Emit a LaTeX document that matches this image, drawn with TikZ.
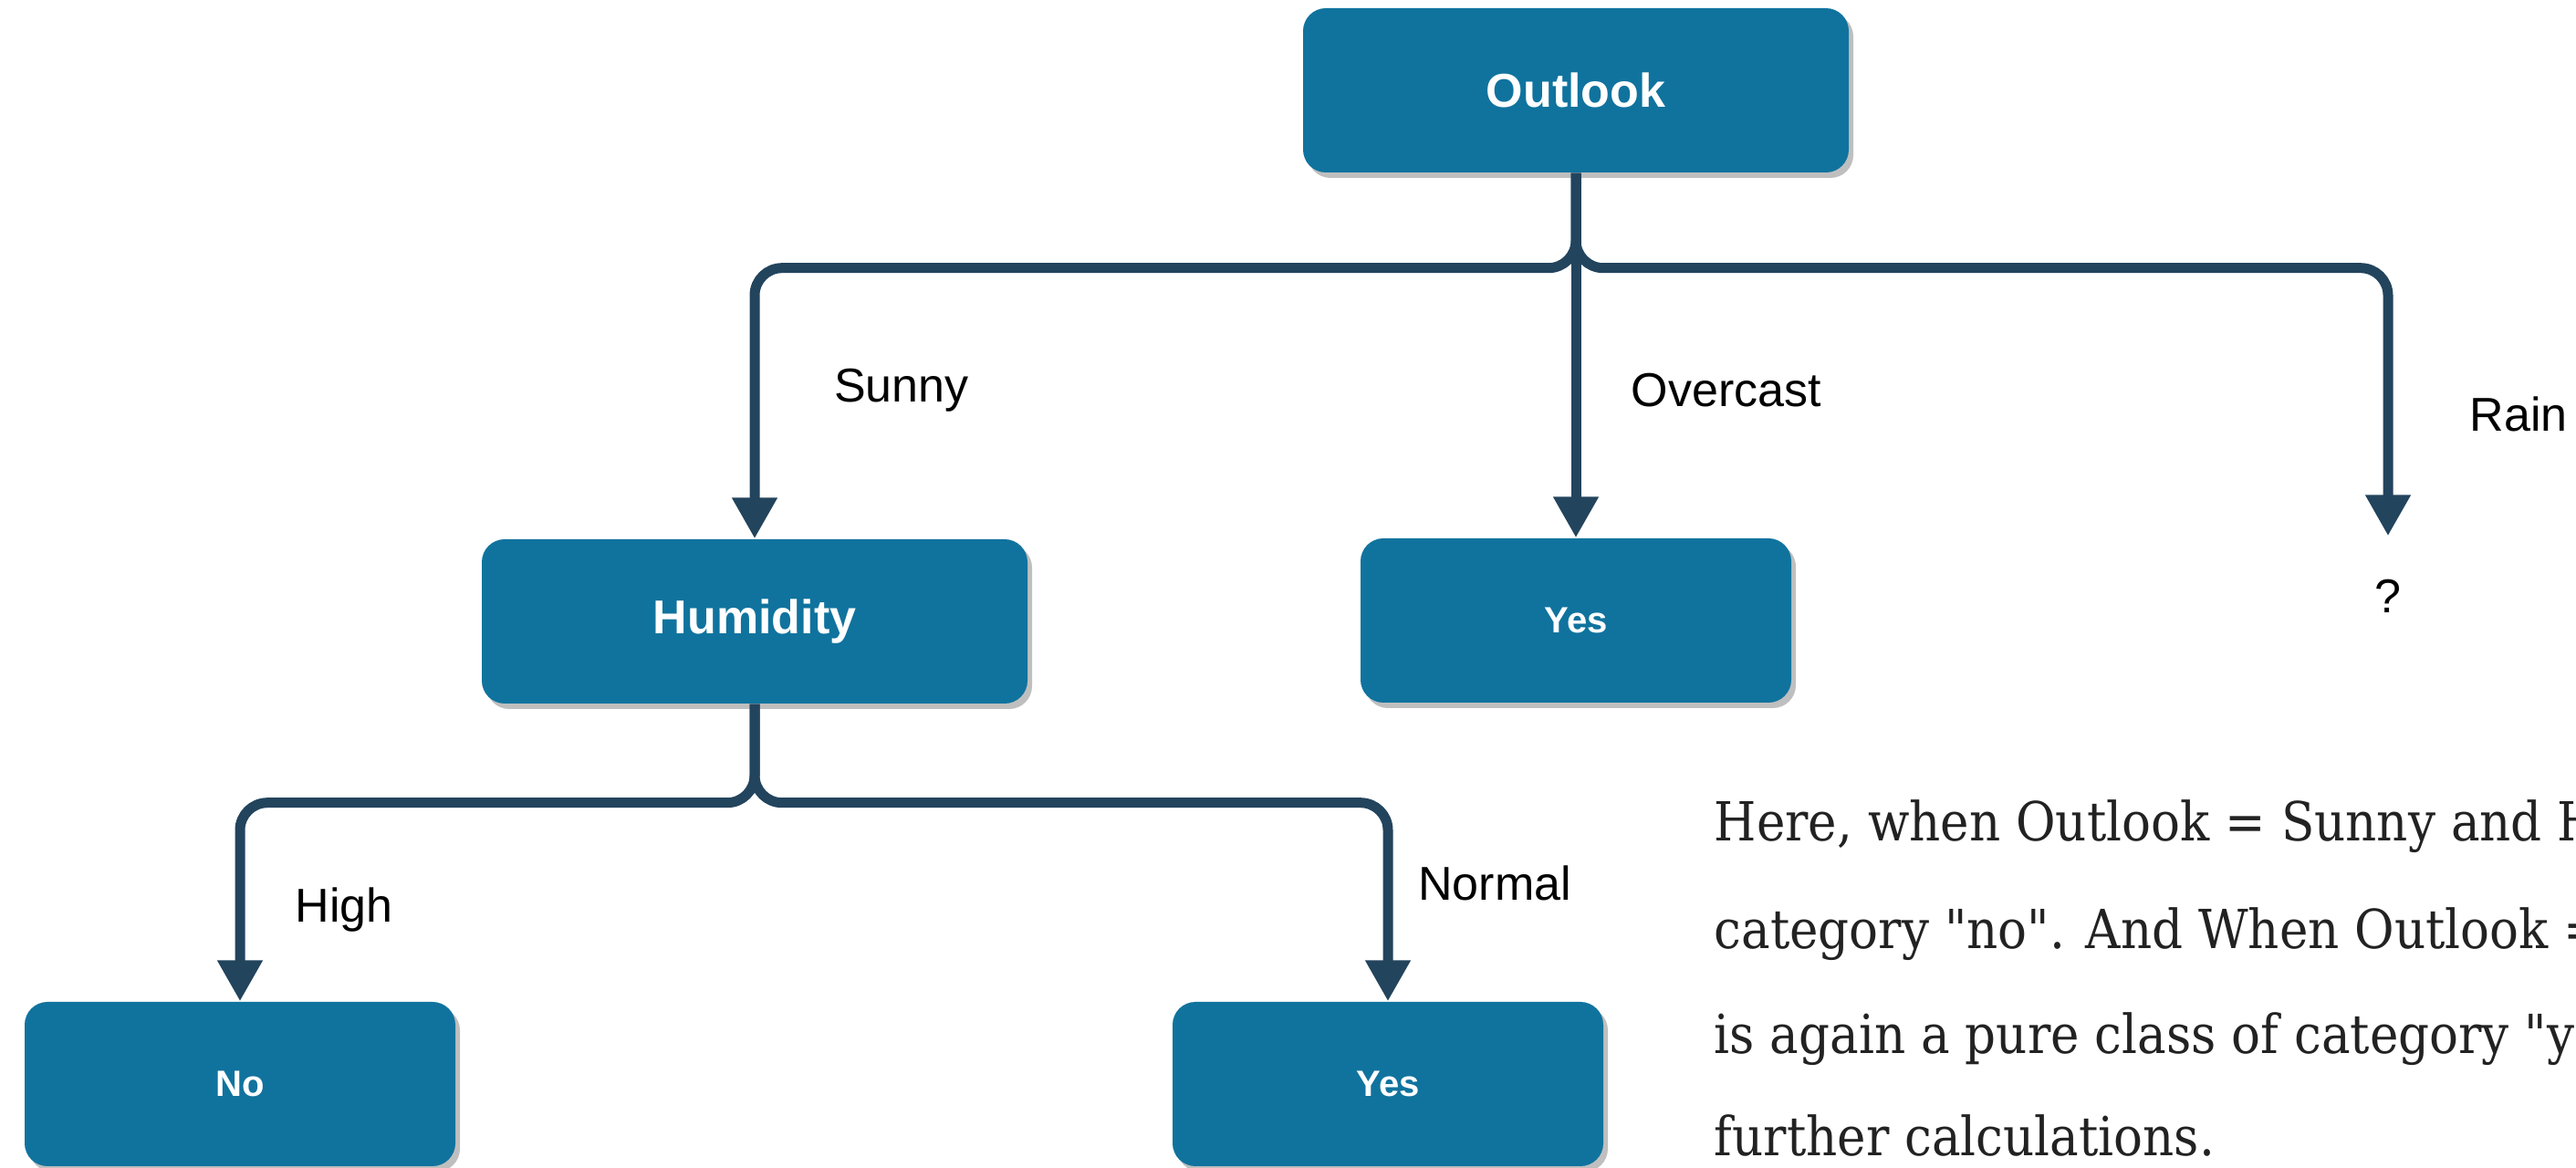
\documentclass[tikz,border=0pt]{standalone}
\usepackage{fontspec}
\setmainfont{Liberation Sans}
\newfontfamily\parafont[FakeStretch=0.9]{DejaVu Serif}
\usetikzlibrary{arrows.meta,shadows}
\definecolor{BoxBlue}{HTML}{10739E}
\definecolor{LineNavy}{HTML}{23445D}
\definecolor{ParaGray}{HTML}{222222}

\begin{document}
\begin{tikzpicture}[
  box/.style={rectangle, rounded corners=0.25cm, fill=BoxBlue, text=white, inner sep=0pt,
              font=\fontsize{14.8}{16}\selectfont\bfseries,
              drop shadow={shadow xshift=0.05cm, shadow yshift=-0.06cm, opacity=0.25, fill=black}},
  attr/.style={box, minimum width=5.98cm, minimum height=1.8cm},
  leaf/.style={box, minimum width=4.72cm, minimum height=1.8cm, font=\fontsize{11.4}{13}\selectfont\bfseries},
  conn/.style={-{Triangle[length=0.45cm, width=0.47cm]}, line width=0.11cm, LineNavy, rounded corners=0.3cm},
  lbl/.style={font=\fontsize{14.8}{16}\selectfont, text=black, inner sep=0pt},
  para/.style={font=\parafont\fontsize{16.8}{20}\selectfont, text=ParaGray, inner sep=0pt, anchor=base west}
]
\useasboundingbox (0,0) rectangle (28.23,-12.80);

% tree nodes
\node[attr] (outlook) at (17.27,-0.99) {Outlook};
\node[attr] (humidity) at (8.27,-6.81) {Humidity};
\node[leaf] (yesover) at (17.27,-6.80) {Yes};
\node[lbl, minimum height=1.3cm] (rainq) at (26.17,-6.53) {?};
\node[leaf] (no) at (2.63,-11.88) {No};
\node[leaf] (yesnorm) at (15.21,-11.88) {Yes};

% branches
\draw[conn] (outlook.south) -- ++(0,-1.04) -| (humidity.north);
\draw[conn] (outlook.south) -- (yesover.north);
\draw[conn] (outlook.south) -- ++(0,-1.04) -| (rainq.north);
\draw[conn] (humidity.south) -- ++(0,-1.08) -| (no.north);
\draw[conn] (humidity.south) -- ++(0,-1.08) -| (yesnorm.north);

% branch labels
\node[lbl] (sunny) at (9.88,-4.28) {Sunny};
\node[lbl, anchor=west] (overcast) at (17.87,-4.28) {Overcast};
\node[lbl, anchor=west] (rain) at (27.06,-4.54) {Rain};
\node[lbl] (high) at (3.77,-9.97) {High};
\node[lbl] (normal) at (16.38,-9.68) {Normal};

% explanation text
\node[para] (line1) at (18.78,-9.22) {Here, when Outlook = Sunny and H};
\node[para] (line2) at (18.78,-10.40) {category "no". And When Outlook =};
\node[para] (line3) at (18.78,-11.55) {is again a pure class of category "ye};
\node[para] (line4) at (18.78,-12.67) {further calculations.};
\end{tikzpicture}
\end{document}
